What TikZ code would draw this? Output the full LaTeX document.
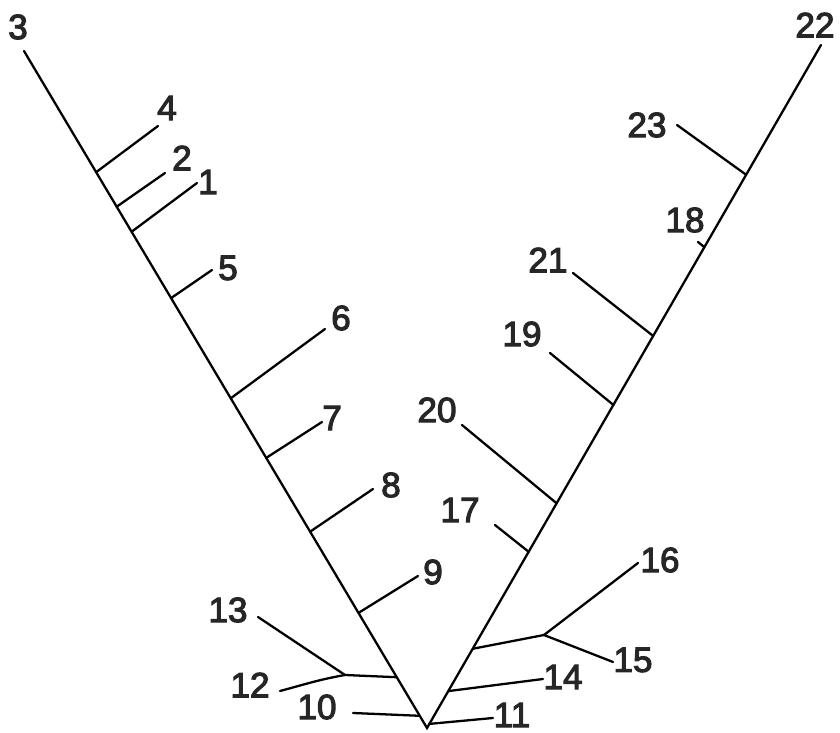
\documentclass[tikz,border=0pt]{standalone}
\usepackage{fontspec}
\setmainfont{Liberation Sans}[BoldFont={Liberation Sans}, BoldFeatures={FakeBold=3}]
\usetikzlibrary{calc}

\begin{document}
\begin{tikzpicture}[x=0.02cm, y=-0.02cm, line width=1.3pt, line cap=round,
    every node/.style={font=\fontsize{20}{22}\selectfont\bfseries, inner sep=0pt},
    taxon/.style={text=black!85}]
    \useasboundingbox (0,0) rectangle (840,733);

    % Main stems
    \coordinate (root) at (427,728);
    \coordinate (tip_3) at (24,51);
    \coordinate (tip_22) at (821,45);
    \draw (tip_3) -- (root) -- (tip_22);
    \node[taxon] (lab_3) at (18,27) {3};
    \node[taxon] (lab_22) at (815,25) {22};

    % Left stem branches
    \coordinate (s_4) at ($(tip_3)!0.179!(root)$);
    \coordinate (s_2) at ($(tip_3)!0.230!(root)$);
    \coordinate (s_1) at ($(tip_3)!0.267!(root)$);
    \coordinate (s_5) at ($(tip_3)!0.365!(root)$);
    \coordinate (s_6) at ($(tip_3)!0.513!(root)$);
    \coordinate (s_7) at ($(tip_3)!0.601!(root)$);
    \coordinate (s_8) at ($(tip_3)!0.710!(root)$);
    \coordinate (s_9) at ($(tip_3)!0.830!(root)$);
    \coordinate (s_1213) at ($(tip_3)!0.925!(root)$);
    \coordinate (s_10) at ($(tip_3)!0.982!(root)$);

    \coordinate (e_4) at (158,126);
    \coordinate (e_2) at (165,173);
    \coordinate (e_1) at (197,183);
    \coordinate (e_5) at (212,270);
    \coordinate (e_6) at (325,329);
    \coordinate (e_7) at (322,422);
    \coordinate (e_8) at (373,489);
    \coordinate (e_9) at (418,576);

    \draw (s_4) -- (e_4);
    \draw (s_2) -- (e_2);
    \draw (s_1) -- (e_1);
    \draw (s_5) -- (e_5);
    \draw (s_6) -- (e_6);
    \draw (s_7) -- (e_7);
    \draw (s_8) -- (e_8);
    \draw (s_9) -- (e_9);

    \node[taxon] (lab_4) at (167,108) {4};
    \node[taxon] (lab_2) at (182,158) {2};
    \node[taxon] (lab_1) at (208,182) {1};
    \node[taxon] (lab_5) at (228,268) {5};
    \node[taxon] (lab_6) at (341,318) {6};
    \node[taxon] (lab_7) at (332,418) {7};
    \node[taxon] (lab_8) at (391,485) {8};
    \node[taxon] (lab_9) at (433,572) {9};

    % Bottom left group
    \coordinate (fork_1213) at (345,675);
    \coordinate (e_13) at (258,617);
    \coordinate (e_12) at (280,691);
    \coordinate (e_10) at (353,713);
    \draw (s_1213) -- (fork_1213);
    \draw (fork_1213) -- (e_13);
    \draw (fork_1213) to[out=190, in=15] (e_12);
    \draw (s_10) -- (e_10);
    \node[taxon] (lab_13) at (228,610) {13};
    \node[taxon] (lab_12) at (250,685) {12};
    \node[taxon] (lab_10) at (317,707) {10};

    % Right stem branches
    \coordinate (s_23) at ($(tip_22)!0.190!(root)$);
    \coordinate (s_18) at ($(tip_22)!0.296!(root)$);
    \coordinate (s_21) at ($(tip_22)!0.426!(root)$);
    \coordinate (s_19) at ($(tip_22)!0.527!(root)$);
    \coordinate (s_20) at ($(tip_22)!0.671!(root)$);
    \coordinate (s_17) at ($(tip_22)!0.742!(root)$);
    \coordinate (s_1516) at ($(tip_22)!0.884!(root)$);
    \coordinate (s_14) at ($(tip_22)!0.946!(root)$);
    \coordinate (s_11) at ($(tip_22)!0.994!(root)$);

    \coordinate (e_23) at (677,125);
    \coordinate (e_18) at (698,242);
    \coordinate (e_21) at (573,273);
    \coordinate (e_19) at (550,353);
    \coordinate (e_20) at (462,425);
    \coordinate (e_17) at (495,525);

    \draw (s_23) -- (e_23);
    \draw (s_18) -- (e_18);
    \draw (s_21) -- (e_21);
    \draw (s_19) -- (e_19);
    \draw (s_20) -- (e_20);
    \draw (s_17) -- (e_17);

    \node[taxon] (lab_23) at (647,125) {23};
    \node[taxon] (lab_18) at (685,220) {18};
    \node[taxon] (lab_21) at (548,260) {21};
    \node[taxon] (lab_19) at (522,334) {19};
    \node[taxon] (lab_20) at (437,410) {20};
    \node[taxon] (lab_17) at (460,510) {17};

    % Bottom right group
    \coordinate (fork_1516) at (544,635);
    \coordinate (e_16) at (638,563);
    \coordinate (e_15) at (613,662);
    \coordinate (e_14) at (543,679);
    \coordinate (e_11) at (493,718);
    \draw (s_1516) -- (fork_1516);
    \draw (fork_1516) -- (e_16);
    \draw (fork_1516) -- (e_15);
    \draw (s_14) -- (e_14);
    \draw (s_11) -- (e_11);
    \node[taxon] (lab_16) at (660,560) {16};
    \node[taxon] (lab_15) at (633,660) {15};
    \node[taxon] (lab_14) at (563,677) {14};
    \node[taxon] (lab_11) at (512,715) {11};
\end{tikzpicture}
\end{document}
